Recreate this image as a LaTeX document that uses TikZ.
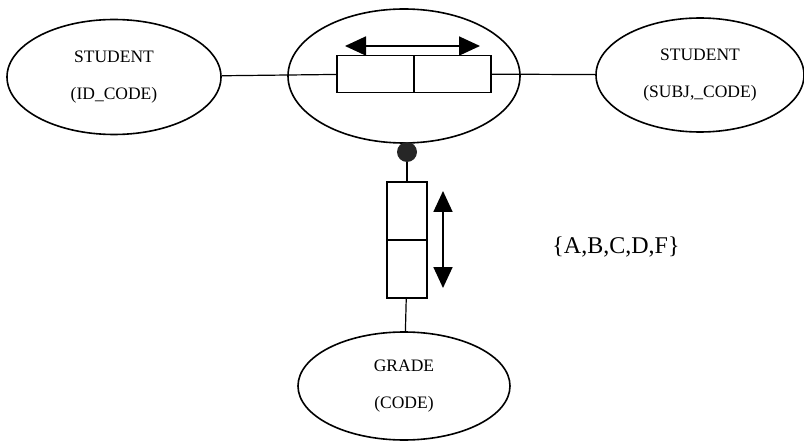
\documentclass[tikz,border=0pt]{standalone}
\usepackage{fontspec}
\setmainfont{Liberation Serif}
\usetikzlibrary{shapes.geometric, arrows.meta, positioning}
\tikzstyle{entity}=[ellipse, draw, line width=1.6pt, inner sep=0pt, align=center, font=\fontsize{17.5}{37}\selectfont]
\tikzstyle{cell}=[rectangle, draw, line width=1.5pt, inner sep=0pt, outer sep=0pt]
\tikzstyle{link}=[line width=1.2pt]
\tikzstyle{swap}=[line width=1.8pt, {Triangle[length=21pt,width=19pt]}-{Triangle[length=21pt,width=19pt]}]

\begin{document}
\begin{tikzpicture}[x=1pt, y=-1pt]
\useasboundingbox (0,0) rectangle (804,441);
% Entities
    \node[entity, minimum width=214, minimum height=115] (idcode) at (114,77) {STUDENT\\(ID\_CODE)};
    \node[entity, minimum width=232, minimum height=134] (rel) at (404,76) {};
    \node[entity, minimum width=208, minimum height=114] (subj) at (700,75) {STUDENT\\(SUBJ,\_CODE)};
    \node[entity, minimum width=212, minimum height=108] (grade) at (404,386) {GRADE\\(CODE)};
%Key cells
    \node[cell, minimum width=77, minimum height=37] (keyL) at (375.5,74) {};
    \node[cell, minimum width=77, minimum height=37, right=0pt of keyL] (keyR) {};
    \node[cell, minimum width=40, minimum height=58] (valT) at (407,211) {};
    \node[cell, minimum width=40, minimum height=58, below=0pt of valT] (valB) {};
    \node[circle, fill=black!85, inner sep=0pt, minimum size=20] (dot) at (407,152) {};
%Links
    \draw[link] (idcode) -- (keyL);
    \draw[link] (keyR) -- (subj);
    \draw[link] (dot) -- (valT);
    \draw[link] (valB) -- (grade);
%Arrows
    \coordinate (hL) at (345,46);
    \coordinate (hR) at (480,46);
    \coordinate (vT) at (443,191);
    \coordinate (vB) at (443,288);
    \draw[swap] (hL) -- (hR);
    \draw[swap] (vT) -- (vB);
%Domain
    \node[font=\fontsize{24}{28}\selectfont] (dom) at (616,247) {\{A,B,C,D,F\}};
\end{tikzpicture}
\end{document}
